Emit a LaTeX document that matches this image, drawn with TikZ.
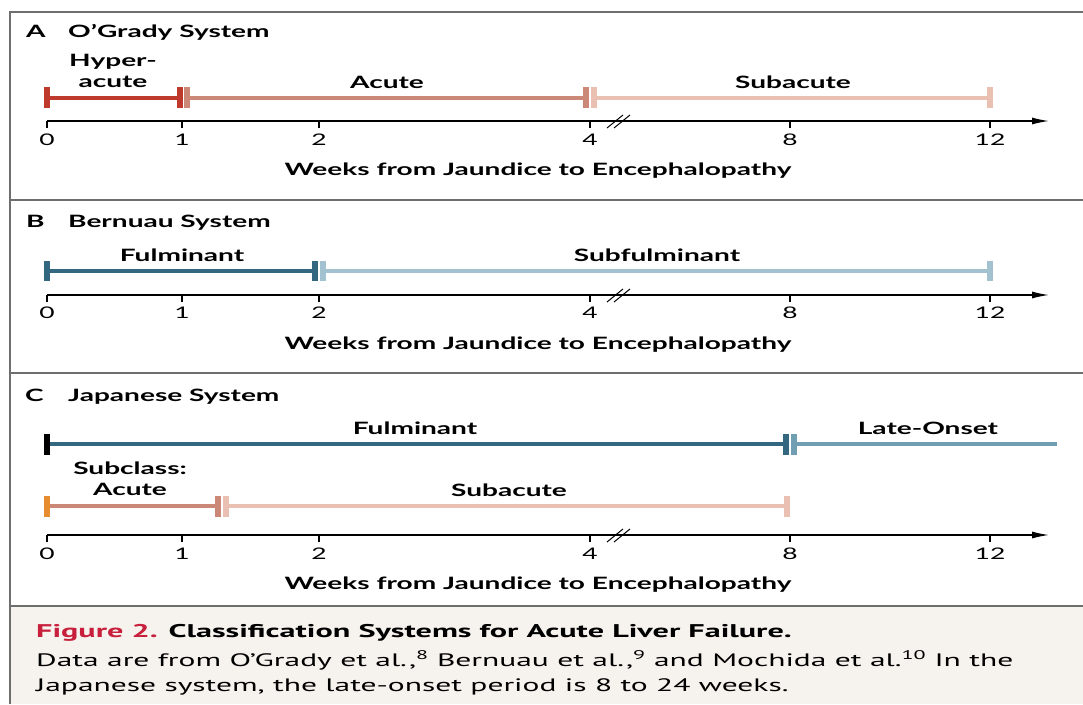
\documentclass[tikz,border=0pt]{standalone}
\usepackage{fontspec}
\setmainfont{Lato}
\newfontfamily\lblfont[FakeStretch=1.65]{Lato}
\newfontfamily\capfont[FakeStretch=1.75]{PT Sans}
\usetikzlibrary{arrows.meta}
\definecolor{hyperred}{RGB}{190,58,45}
\definecolor{acutesalmon}{RGB}{204,136,118}
\definecolor{subpink}{RGB}{233,192,178}
\definecolor{fulteal}{RGB}{52,104,128}
\definecolor{subfulblue}{RGB}{162,194,208}
\definecolor{lateteal}{RGB}{112,158,178}
\definecolor{onsetorange}{RGB}{232,140,48}
\definecolor{capbeige}{RGB}{246,242,237}
\definecolor{figred}{RGB}{200,32,60}
\definecolor{framegray}{RGB}{110,110,110}

\begin{document}
\begin{tikzpicture}[
  x=1pt, y=-1pt,
  frame/.style={draw=framegray, line width=2.5pt},
  panel/.style={font=\lblfont\bfseries\fontsize{17}{20}\selectfont,
                anchor=base west, inner sep=0pt},
  lbl/.style={font=\lblfont\bfseries\fontsize{17}{21}\selectfont,
              anchor=base, inner sep=0pt, align=center},
  num/.style={font=\lblfont\fontsize{16}{18}\selectfont, anchor=base,
              inner sep=0pt},
  bar/.style={line width=3.5pt},
  endcap/.style={line width=6pt},
  axis/.style={line width=1.3pt, -{Latex[length=17pt,width=7pt]}},
  tick/.style={line width=1.3pt}
]
\useasboundingbox (0,0) rectangle (1083,704);
% caption box and frame
\fill[capbeige] (11,606) rectangle (1083,704);
\draw[frame] (10,704) -- (10,12) -- (1083,12);
\foreach \y in {200, 373, 606}
  \draw[frame] (10,\y) -- (1083,\y);

% axes: one per panel
\foreach \ay/\ny/\wy in {121/145/175, 295/318/349, 535/559/589} {
  \draw[axis] (47,\ay) -- (1049,\ay);
  \foreach \x/\t in {47/0, 182/1, 319/2, 590/4, 790/8, 990/12} {
    \draw[tick] (\x,\ay) -- (\x,\ay+7);
    \node[num] at (\x,\ny) {\t};
  }
  \draw[line width=1pt] (607,\ay+7) -- (623,\ay-6)
                        (614,\ay+7) -- (630,\ay-6);
  \node[lbl] at (538,\wy) {Weeks from Jaundice to Encephalopathy};
}

% A  O'Grady
\node[panel] (pA) at (26,37) {A};
\node[panel] (tA) at (68,37) {O’Grady System};
\draw[bar, line width=4pt, hyperred] (47,97.5) -- (180,97.5);
\draw[endcap, hyperred] (47,87) -- (47,108) (180,87) -- (180,108);
\draw[bar, line width=4pt, acutesalmon] (187,97.5) -- (586,97.5);
\draw[endcap, acutesalmon] (187,87) -- (187,108) (586,87) -- (586,108);
\draw[bar, line width=4pt, subpink] (594,97.5) -- (990,97.5);
\draw[endcap, subpink] (594,87) -- (594,108) (990,87) -- (990,108);
\node[lbl, anchor=south] (hyper) at (113,88) {Hyper-\\acute};
\node[lbl] (acuteA) at (387,88) {Acute};
\node[lbl] (subacA) at (793,88) {Subacute};

% B  Bernuau
\node[panel] (pB) at (26,227) {B};
\node[panel] (tB) at (68,227) {Bernuau System};
\draw[bar, fulteal] (47,271) -- (315,271);
\draw[endcap, fulteal] (47,261) -- (47,281) (315,261) -- (315,281);
\draw[bar, subfulblue] (323,271) -- (990,271);
\draw[endcap, subfulblue] (323,261) -- (323,281) (990,261) -- (990,281);
\node[lbl] (fulB) at (182,261) {Fulminant};
\node[lbl] (subfulB) at (657,261) {Subfulminant};

% C  Japanese
\node[panel] (pC) at (25,401) {C};
\node[panel] (tC) at (68,401) {Japanese System};
\draw[bar, fulteal] (47,444) -- (786,444);
\draw[endcap, black] (47,434) -- (47,455);
\draw[endcap, fulteal] (786,434) -- (786,455);
\draw[bar, lateteal] (794,444) -- (1057,444);
\draw[endcap, lateteal] (794,434) -- (794,455);
\node[lbl] (fulC) at (415,434) {Fulminant};
\node[lbl] (lateC) at (928,434) {Late-Onset};
\draw[bar, acutesalmon] (47,506) -- (218,506);
\draw[endcap, onsetorange] (47,496) -- (47,517);
\draw[endcap, acutesalmon] (218,496) -- (218,517);
\draw[bar, subpink] (226,506) -- (787,506);
\draw[endcap, subpink] (226,496) -- (226,517) (787,496) -- (787,517);
\node[lbl, anchor=south] (subclass) at (130,496) {Subclass:\\Acute};
\node[lbl] (subacC) at (509,496) {Subacute};

% caption
\node[font=\capfont\bfseries\fontsize{18.4}{22}\selectfont, anchor=base west,
      inner sep=0pt] (figcap) at (36,637)
  {\textcolor{figred}{Figure 2.} Classification Systems for Acute Liver Failure.};
\node[font=\capfont\fontsize{18}{25}\selectfont, anchor=base west,
      align=left, inner sep=0pt] (capbody) at (36,691)
  {Data are from O’Grady et al.,\textsuperscript{8} Bernuau et al.,\textsuperscript{9}
   and Mochida et al.\textsuperscript{10} In the\\
   Japanese system, the late-onset period is 8 to 24 weeks.};
\end{tikzpicture}
\end{document}
